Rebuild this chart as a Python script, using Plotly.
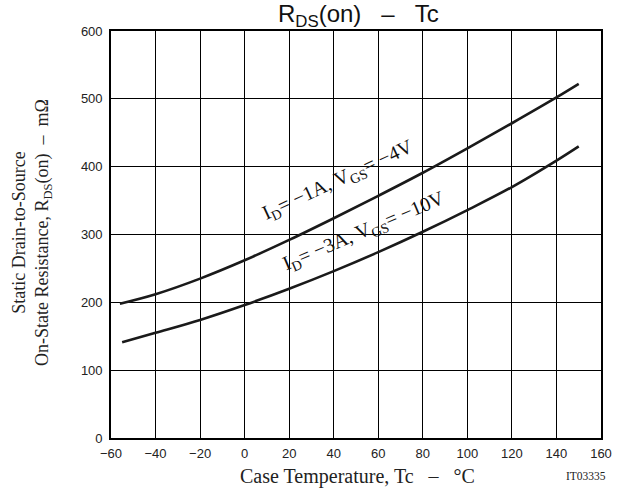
import plotly.graph_objects as go

# Data
temp_c = [-56, -40, -20, 0, 20, 40, 60, 80, 100, 120, 140, 150]
rds_1a_4v = [198, 212, 235, 262, 292, 324, 357, 391, 427, 464, 502, 522]
temp_c_3a = [-55, -40, -20, 0, 20, 40, 60, 80, 100, 120, 140, 150]
rds_3a_10v = [141, 155, 174, 196, 220, 246, 274, 304, 336, 370, 409, 430]

x_ticks = [-60, -40, -20, 0, 20, 40, 60, 80, 100, 120, 140, 160]
y_ticks = [0, 100, 200, 300, 400, 500, 600]

SANS = "Liberation Sans, Arial, sans-serif"
SERIF = "Liberation Serif, Times New Roman, serif"
NB = "\u00a0"

W, H = 631, 496
ML, MR, MT, MB = 111, 30, 31, 58
PW, PH = W - ML - MR, H - MT - MB


def px(xp):
    return (xp - ML) / PW


def py(yp):
    return 1 - (yp - MT) / PH


fig = go.Figure()
for xs, ys in [(temp_c, rds_1a_4v), (temp_c_3a, rds_3a_10v)]:
    fig.add_trace(go.Scatter(x=xs, y=ys, mode="lines",
                             line=dict(color="#1a1a1a", width=2.6, shape="spline", smoothing=1.0),
                             showlegend=False, hoverinfo="skip"))

axis_common = dict(showgrid=True, gridcolor="#000000", gridwidth=1,
                   showline=True, linecolor="#000000", linewidth=1.6, mirror=True,
                   ticks="", zeroline=False,
                   tickfont=dict(family=SANS, size=13, color="#222222"))

fig.update_xaxes(range=[-60, 160], tickvals=x_ticks, ticktext=[f"{v}".replace("-", "\u2212") for v in x_ticks],
                 ticklabelstandoff=3, **axis_common)
fig.update_yaxes(range=[0, 600], tickvals=y_ticks, ticktext=[str(v) for v in y_ticks],
                 ticklabelstandoff=4, **axis_common)

annotations = [
    dict(text=f"R<sub>DS</sub>(on){NB}{NB}{NB}–{NB}{NB}{NB}Tc", x=px(358), y=py(16),
         font=dict(family=SANS, size=24, color="#111111")),
    dict(text=f"Static Drain-to-Source<br>On-State Resistance, R<sub>DS</sub>(on){NB}{NB}–{NB}{NB}mΩ",
         x=px(32), y=py(233), textangle=-90,
         font=dict(family=SERIF, size=18, color="#222222")),
    dict(text=f"Case Temperature, Tc{NB}{NB}{NB}–{NB}{NB}{NB}°C", x=px(357), y=py(476),
         font=dict(family=SERIF, size=20, color="#222222")),
    dict(text="IT03335", x=px(586), y=py(476),
         font=dict(family=SERIF, size=11.5, color="#222222")),
    dict(text=f"I<sub>D</sub>={NB}−1A,{NB}V<sub>GS</sub>={NB}−4V", x=px(338), y=py(180), textangle=-25,
         font=dict(family=SERIF, size=20, color="#111111")),
    dict(text=f"I<sub>D</sub>={NB}−3A,{NB}V<sub>GS</sub>={NB}−10V", x=px(364), y=py(231), textangle=-23,
         font=dict(family=SERIF, size=20, color="#111111")),
]
for a in annotations:
    a.update(xref="paper", yref="paper", showarrow=False, xanchor="center", yanchor="middle")

fig.update_layout(width=W, height=H, margin=dict(l=ML, r=MR, t=MT, b=MB),
                  paper_bgcolor="white", plot_bgcolor="white",
                  annotations=annotations, showlegend=False)

fig.write_html("out.html")
